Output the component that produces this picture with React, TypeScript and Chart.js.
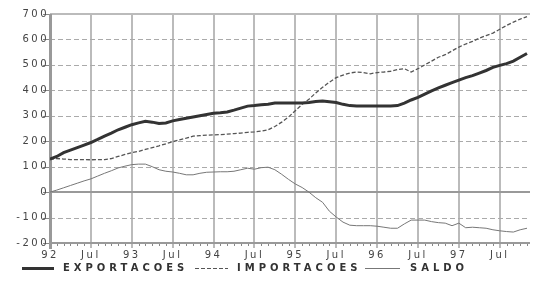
import React, { useEffect, useRef, useState } from "react";
import { Chart, registerables } from "chart.js";
Chart.register(...registerables);

// Monthly data, Jan 1992 .. Nov 1997
const years = ["92", "93", "94", "95", "96", "97"];
const monthNames = ["Jan", "Feb", "Mar", "Apr", "May", "Jun", "Jul", "Aug", "Sep", "Oct", "Nov", "Dec"];
const months: string[] = years.flatMap((y) => monthNames.map((m) => `${m} ${y}`)).slice(0, 71);

const tickLabels = ["92", "Jul", "93", "Jul", "94", "Jul", "95", "Jul", "96", "Jul", "97", "Jul"];
const yTicks = [-200, -100, 0, 100, 200, 300, 400, 500, 600, 700];
const seriesNames = ["EXPORTACOES", "IMPORTACOES", "SALDO"];

const exportacoes = [
  130, 140, 155, 165, 175, 185, 195, 207, 220, 232,
  245, 255, 265, 272, 278, 275, 270, 272, 280, 285,
  290, 295, 300, 305, 310, 312, 315, 322, 330, 338,
  340, 343, 345, 350, 350, 350, 350, 350, 352, 356,
  358, 355, 352, 345, 340, 338, 338, 338, 338, 338,
  338, 340, 350, 362, 372, 385, 398, 410, 420, 430,
  440, 450, 458, 468, 478, 490, 498, 505, 515, 530,
  545,
];

const importacoes = [
  130, 132, 130, 128, 128, 128, 127, 128, 128, 132,
  140, 148, 155, 160, 168, 175, 182, 190, 198, 205,
  212, 220, 222, 224, 225, 226, 228, 230, 232, 235,
  237, 240, 245, 258, 275, 295, 320, 345, 365, 390,
  412, 432, 450, 460, 468, 472, 470, 465, 470, 472,
  475, 482, 485, 472, 485, 500, 515, 530, 540, 555,
  570, 582, 592, 605, 615, 625, 640, 655, 668, 680,
  690,
];

const saldo = [
  0, 8, 17, 26, 35, 44, 52, 63, 74, 84,
  95, 102, 108, 110, 110, 100, 88, 82, 79, 74,
  68, 68, 74, 78, 79, 80, 80, 82, 88, 94,
  90, 96, 98, 88, 70, 50, 32, 18, 0, -22,
  -40, -75, -98, -118, -130, -132, -132, -132, -134, -138,
  -142, -142, -125, -110, -110, -110, -116, -120, -122, -132,
  -122, -140, -138, -140, -142, -148, -152, -155, -157, -148,
  -142,
];

const spacingPlugin = {
  id: "letterSpacing",
  beforeDraw(chart: any) {
    chart.ctx.letterSpacing = "2.5px";
  },
};

type GridInfo = {
  left: number; right: number; top: number; bottom: number;
  xs: number[]; ys: number[];
};

export default function App() {
  const ref = useRef<HTMLCanvasElement>(null);
  const [grid, setGrid] = useState<GridInfo | null>(null);
  const [err, setErr] = useState<string>("");

  useEffect(() => {
    const canvas = ref.current!;
    const pts = (arr: number[]) => arr.map((v, i) => ({ x: i, y: v }));
    const tickFont = { family: "'DejaVu Sans'", size: 10 };
    const chart = new Chart(canvas, {
      type: "line",
      data: {
        datasets: [
          { label: seriesNames[0], data: pts(exportacoes), borderColor: "#333", borderWidth: 3, pointRadius: 0, tension: 0, fill: false },
          { label: seriesNames[1], data: pts(importacoes), borderColor: "#555", borderWidth: 1.3, borderDash: [4, 2], pointRadius: 0, tension: 0, fill: false },
          { label: seriesNames[2], data: pts(saldo), borderColor: "#777", borderWidth: 1, pointRadius: 0, tension: 0, fill: false },
        ],
      },
      options: {
        responsive: false,
        animation: false,
        layout: { padding: { top: 14, right: 0, left: 0, bottom: 26 } },
        plugins: { legend: { display: false }, tooltip: { enabled: false } },
        scales: {
          x: {
            type: "linear",
            min: 0,
            max: 70.5,
            afterFit: (s: any) => { s.height = 20; },
            afterBuildTicks: (s: any) => { s.ticks = months.map((_, i) => ({ value: i })); },
            ticks: {
              autoSkip: false,
              maxRotation: 0,
              padding: 6,
              font: tickFont,
              color: "#444",
              callback: (v: any) => (Number(v) % 6 === 0 ? tickLabels[Number(v) / 6] : ""),
            },
            grid: { display: false, drawTicks: false },
            border: { display: false },
          },
          y: {
            min: -200,
            max: 700,
            afterFit: (s: any) => { s.width = 50; },
            afterBuildTicks: (s: any) => { s.ticks = yTicks.map((v) => ({ value: v })); },
            ticks: { padding: 1, font: tickFont, color: "#444" },
            grid: { display: false, drawTicks: false },
            border: { display: false },
          },
        },
      },
      plugins: [spacingPlugin],
    } as any);

    try {
      const a = chart.chartArea;
      const sx: any = chart.scales.x;
      const sy: any = chart.scales.y;
      const info: GridInfo = {
        left: Math.round(a.left),
        right: Math.round(a.right),
        top: Math.round(a.top),
        bottom: Math.round(a.bottom),
        xs: months.map((_, i) => Math.round(sx.getPixelForValue(i))),
        ys: yTicks.map((v) => Math.round(sy.getPixelForValue(v))),
      };
      const bad = [info.left, info.right, info.top, info.bottom, ...info.xs, ...info.ys].some((n) => !isFinite(n));
      if (bad) setErr("bad grid: " + JSON.stringify(info).slice(0, 200));
      setGrid(info);
    } catch (e: any) {
      setErr("err: " + String(e && e.message));
    }
    return () => chart.destroy();
  }, []);

  const legendText: React.CSSProperties = {
    position: "absolute",
    top: 262,
    fontFamily: "'DejaVu Sans'",
    fontWeight: "bold",
    fontSize: 10,
    letterSpacing: "4px",
    color: "#333",
    lineHeight: "12px",
    whiteSpace: "nowrap",
  };

  return (
    <div style={{ position: "fixed", left: 0, top: 0, width: 533, height: 289, background: "#fff" }}>
      {grid && (
        <svg
          width={533}
          height={289}
          style={{ position: "absolute", left: 0, top: 0 }}
          shapeRendering="crispEdges"
        >
          {grid.xs.map((px, i) =>
            i % 6 === 0 ? (
              <line key={"v" + i} x1={px} x2={px} y1={grid.top} y2={grid.bottom + 5} stroke="#bbb" strokeWidth={2} />
            ) : (
              <line key={"m" + i} x1={px + 0.5} x2={px + 0.5} y1={grid.bottom} y2={grid.bottom + 3} stroke="#888" strokeWidth={1} />
            )
          )}
          {grid.ys.map((py, i) => {
            const v = yTicks[i];
            const solid = v === 0 || v === 700 || v === -200;
            return (
              <g key={"h" + i}>
                {solid ? (
                  <line x1={grid.left} x2={grid.right} y1={py} y2={py} stroke={v === 700 ? "#bbb" : "#999"} strokeWidth={2} />
                ) : (
                  <line x1={grid.left} x2={grid.right} y1={py + 0.5} y2={py + 0.5} stroke="#aaa" strokeWidth={1} strokeDasharray="5 3" />
                )}
                <line x1={grid.left - 7} x2={grid.left} y1={py + 0.5} y2={py + 0.5} stroke="#888" strokeWidth={1} />
              </g>
            );
          })}
          <line x1={grid.left} x2={grid.left} y1={grid.top} y2={grid.bottom + 6} stroke="#999" strokeWidth={3} />
        </svg>
      )}
      <canvas ref={ref} width={533} height={289} style={{ display: "block", position: "relative" }} />
      <div style={{ position: "absolute", left: 22, top: 267, width: 32, height: 3, background: "#333" }} />
      <div style={{ ...legendText, left: 63 }}>{seriesNames[0]}</div>
      <div
        style={{
          position: "absolute", left: 195, top: 267.5, width: 33, height: 1.5,
          background: "repeating-linear-gradient(to right, #555 0 4px, transparent 4px 6px)",
        }}
      />
      <div style={{ ...legendText, left: 237 }}>{seriesNames[1]}</div>
      <div style={{ position: "absolute", left: 365, top: 268, width: 35, height: 1, background: "#777" }} />
      <div style={{ ...legendText, left: 410 }}>{seriesNames[2]}</div>
      {err && (
        <div style={{ position: "absolute", left: 60, top: 20, fontSize: 9, color: "red", width: 460 }}>{err}</div>
      )}
    </div>
  );
}
